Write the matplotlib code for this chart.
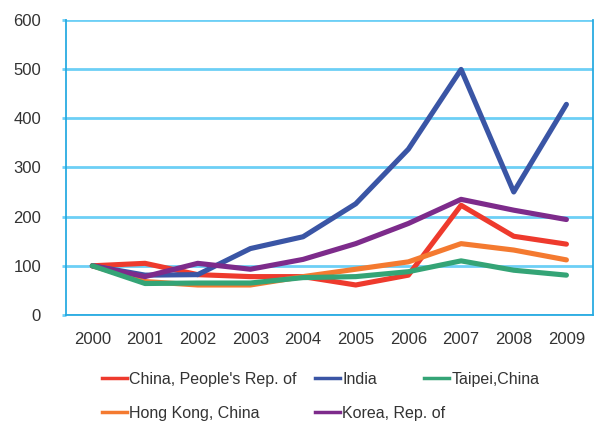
import matplotlib

matplotlib.use("Agg")
import matplotlib.pyplot as plt
from matplotlib.lines import Line2D

years = ["2000", "2001", "2002", "2003", "2004", "2005", "2006", "2007", "2008", "2009"]

china = [100, 105, 82, 78, 78, 61, 81, 223, 160, 144]
india = [100, 81, 82, 135, 159, 226, 337, 499, 250, 428]
hong_kong = [100, 68, 61, 61, 78, 93, 108, 145, 132, 112]
korea = [100, 78, 105, 93, 113, 145, 186, 235, 213, 194]
taipei = [100, 64, 65, 65, 76, 78, 88, 110, 91, 81]

series_names = ["China, People's Rep. of", "India", "Hong Kong, China", "Korea, Rep. of", "Taipei,China"]
series_values = [china, india, hong_kong, korea, taipei]
series_colors = ["#ee3a2d", "#3a55a5", "#f47a30", "#7d2b8b", "#34a476"]

plt.rcParams["font.family"] = ["Liberation Sans", "DejaVu Sans"]

fig = plt.figure(figsize=(6.03, 4.23), dpi=100)
ax = fig.add_axes([0.1095, 0.2553, 0.8735, 0.6981])

x = range(len(years))
for name, values, color in zip(series_names, series_values, series_colors):
    ax.plot(x, values, color=color, linewidth=3.7, solid_capstyle="round",
            solid_joinstyle="round", label=name, zorder=3)

ax.set_xlim(-0.5, len(years) - 0.5)
ax.set_ylim(0, 600)
ax.set_yticks(range(0, 601, 100))
ax.set_xticks(list(x), labels=years)
ax.yaxis.grid(True, color="#6dcff6", linewidth=2)
ax.set_axisbelow(True)

for side in ["left", "bottom", "right"]:
    ax.spines[side].set_color("#29abe2")
    ax.spines[side].set_linewidth(1.3)
ax.spines["top"].set_visible(False)

ax.tick_params(axis="y", length=3, color="#6dcff6", width=2, pad=15,
               labelsize=12, labelcolor="#333333")
ax.tick_params(axis="x", length=0, pad=12, labelsize=12, labelcolor="#333333")

# legend entries placed one by one (pixel positions of handle starts)
legend_spots = {
    "China, People's Rep. of": (102, 379),
    "India": (315, 379),
    "Taipei,China": (424, 379),
    "Hong Kong, China": (102, 413),
    "Korea, Rep. of": (315, 413),
}
W, H = 603, 423
for name, color in zip(series_names, series_colors):
    px, py = legend_spots[name]
    handle = Line2D([], [], color=color, linewidth=2.5)
    fig.legend([handle], [name], loc="center left",
               bbox_to_anchor=(px / W, 1 - py / H), frameon=False,
               handlelength=1.55, handletextpad=0.15, borderpad=0,
               borderaxespad=0, fontsize=11.5, labelcolor="#333333")

fig.savefig("out.png", dpi=100)
